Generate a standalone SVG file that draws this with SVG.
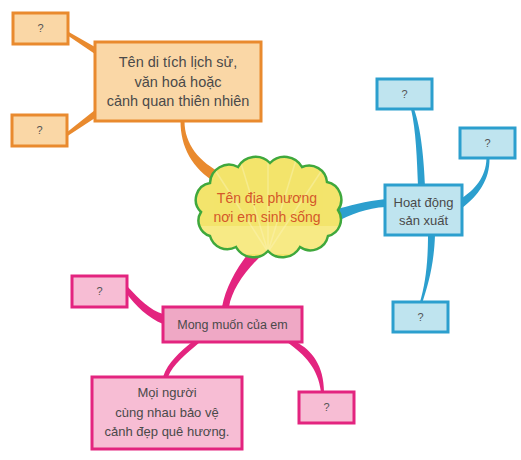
<svg xmlns="http://www.w3.org/2000/svg" width="521" height="460" viewBox="0 0 521 460">
<style>
text{font-family:"Liberation Sans","DejaVu Sans",sans-serif;text-anchor:middle;fill:#4a4a4a}
.q{font-size:11px;fill:#555}
.o{fill:#FAD7A6;stroke:#E98A2E;stroke-width:3}
.b{fill:#BFE4EF;stroke:#2C9FCE;stroke-width:3}
.p{fill:#F7BDD4;stroke:#E3247F;stroke-width:3}
.oc{fill:#E98A2E}
.bc{fill:#2C9FCE}
.pc{fill:#E3247F}
</style>
<defs>
<clipPath id="cc"><path id="cloudShape" d="M201,212 A17,17 0 0 1 210,183 A19,19 0 0 1 238,167 A20,20 0 0 1 270,163 A20,20 0 0 1 302,167 A18,18 0 0 1 327,182 A18,18 0 0 1 338,210 A17,17 0 0 1 328,236 A18,18 0 0 1 300,247 A20,20 0 0 1 268,251 A20,20 0 0 1 236,247 A18,18 0 0 1 210,236 A16,16 0 0 1 201,212 Z"/></clipPath>
</defs>
<rect width="521" height="460" fill="#fff"/>
<g id="connectors">
<polygon class="oc" points="67,31 95,47 95,54 67,35"/>
<polygon class="oc" points="66,133 95,110 95,118 66,137"/>
<path class="oc" d="M180.5,121 C180.5,147 192,168 216,183 L223,174 C199,162 184.5,144 184.5,121 Z"/>
<path class="bc" d="M332,210 C350,206 365,201 386,199 L386,207 C366,208 352,214 334,223 Z"/>
<path class="bc" d="M411,109 C416,130 417,160 418,186 L425,186 C424,160 421,128 414,109 Z"/>
<path class="bc" d="M486.5,158 C486,178 474,190 462,198 L462,208 C478,196 490,180 489.5,158 Z"/>
<path class="bc" d="M428,235 C428,265 425,285 420,302 L422.5,302 C428,285 434,265 435,235 Z"/>
<path class="pc" d="M256,244 C240,262 226,285 222,307 L229,307 C232,288 248,266 270,248 Z"/>
<path class="pc" d="M127,286 C140,300 150,310 163,314 L163,324 C148,318 135,305 127,294 Z"/>
<path class="pc" d="M192,342 C180,352 168,362 163,377 L168,377 C173,364 186,354 200,342 Z"/>
<path class="pc" d="M287,342 C305,355 318,368 321,392 L324,392 C324,366 312,350 296,342 Z"/>
</g>
<g id="center">
<use href="#cloudShape" fill="#F3E46C"/>
<g clip-path="url(#cc)">
<rect x="195" y="226" width="150" height="28" fill="#F7EA86"/>
<g stroke="#FBF4B6" stroke-width="1.5" opacity="0.45">
<line x1="268" y1="252" x2="215" y2="170"/>
<line x1="268" y1="252" x2="240" y2="160"/>
<line x1="268" y1="252" x2="268" y2="160"/>
<line x1="268" y1="252" x2="296" y2="160"/>
<line x1="268" y1="252" x2="322" y2="170"/>
</g>
</g>
<use href="#cloudShape" fill="none" stroke="#3FA83C" stroke-width="2.5"/>
<text x="267" y="203" font-size="14" style="fill:#D4582A">Tên địa phương</text>
<text x="267" y="222" font-size="14" style="fill:#D4582A">nơi em sinh sống</text>
</g>
<g id="orange-main">
<rect class="o" x="95" y="42" width="166" height="79"/>
<text x="178" y="67" font-size="14.5">Tên di tích lịch sử,</text>
<text x="178" y="87" font-size="14.5">văn hoá hoặc</text>
<text x="178" y="106" font-size="14.5">cảnh quan thiên nhiên</text>
</g>
<g id="orange-q1"><rect class="o" x="13" y="13" width="55" height="31"/><text class="q" x="40.5" y="32">?</text></g>
<g id="orange-q2"><rect class="o" x="12" y="115" width="55" height="31"/><text class="q" x="39.5" y="134">?</text></g>
<g id="blue-main">
<rect class="b" x="385" y="185" width="77" height="50"/>
<text x="423.5" y="207" font-size="13">Hoạt động</text>
<text x="423.5" y="225" font-size="13">sản xuất</text>
</g>
<g id="blue-q1"><rect class="b" x="377" y="79" width="55" height="30"/><text class="q" x="404.5" y="98">?</text></g>
<g id="blue-q2"><rect class="b" x="460" y="128" width="55" height="30"/><text class="q" x="487.5" y="147">?</text></g>
<g id="blue-q3"><rect class="b" x="393" y="302" width="55" height="30"/><text class="q" x="420.5" y="321">?</text></g>
<g id="pink-main">
<rect class="p" x="163" y="307" width="139" height="35" style="fill:#EFA8C5"/>
<text x="232.5" y="329" font-size="12.5">Mong muốn của em</text>
</g>
<g id="pink-q1"><rect class="p" x="72" y="276" width="55" height="31"/><text class="q" x="99.5" y="295">?</text></g>
<g id="pink-q2"><rect class="p" x="299" y="392" width="55" height="31"/><text class="q" x="326.5" y="411">?</text></g>
<g id="pink-answer">
<rect class="p" x="92" y="377" width="150" height="72"/>
<text x="167" y="397" font-size="13">Mọi người</text>
<text x="167" y="417" font-size="13">cùng nhau bảo vệ</text>
<text x="167" y="436" font-size="13">cảnh đẹp quê hương.</text>
</g>
</svg>
